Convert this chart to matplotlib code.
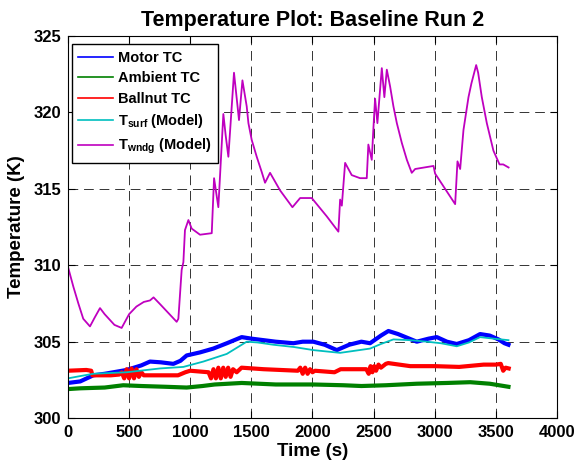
import matplotlib
matplotlib.use("Agg")
import matplotlib.pyplot as plt
from matplotlib.lines import Line2D

plt.rcParams["font.family"] = ["Liberation Sans", "DejaVu Sans"]
plt.rcParams["font.weight"] = "bold"
plt.rcParams["mathtext.fontset"] = "custom"
plt.rcParams["mathtext.rm"] = "Liberation Sans:bold"
plt.rcParams["mathtext.bf"] = "Liberation Sans:bold"
plt.rcParams["mathtext.it"] = "Liberation Sans:bold"

# Motor TC
motor_t = [0, 100, 207, 300, 480, 600, 671, 760, 862, 920, 971, 1080, 1189, 1300,
           1421, 1500, 1600, 1700, 1844, 1920, 2007, 2100, 2199, 2300, 2400, 2471,
           2560, 2621, 2700, 2853, 2950, 3017, 3100, 3180, 3280, 3371, 3450, 3521,
           3570, 3603]
motor_T = [302.3, 302.4, 302.8, 302.9, 303.15, 303.45, 303.7, 303.65, 303.55, 303.75,
           304.1, 304.3, 304.55, 304.9, 305.3, 305.2, 305.1, 305.0, 304.9, 305.0,
           305.0, 304.8, 304.45, 304.8, 305.0, 304.9, 305.4, 305.7, 305.5, 305.0,
           305.2, 305.3, 305.0, 304.85, 305.1, 305.5, 305.4, 305.15, 304.9, 304.8]

# Ambient TC
amb_t = [0, 100, 300, 452, 600, 800, 971, 1100, 1200, 1421, 1700, 2007, 2253, 2400,
         2600, 2853, 3100, 3290, 3450, 3603]
amb_T = [301.9, 301.95, 302.0, 302.15, 302.1, 302.05, 302.0, 302.1, 302.2, 302.3,
         302.2, 302.2, 302.15, 302.1, 302.15, 302.25, 302.3, 302.35, 302.25, 302.05]

# Ballnut TC
ball_t = [0, 150, 190, 200, 350, 420, 440, 460, 480, 500, 520, 540, 560, 580, 600, 620,
          900, 960, 1000, 1150, 1170, 1190, 1210, 1230, 1250, 1270, 1290, 1310, 1330,
          1350, 1380, 1420, 1600, 1880, 1900, 1920, 1940, 1960, 1980, 2000, 2020, 2180,
          2230, 2440, 2460, 2475, 2490, 2505, 2520, 2540, 2560, 2600, 2620, 2800, 3000,
          3200, 3400, 3500, 3540, 3560, 3580, 3605]
ball_T = [303.1, 303.15, 303.1, 302.8, 302.8, 302.85, 303.0, 302.6, 303.2, 302.6,
          303.25, 302.6, 303.2, 302.7, 303.0, 302.8, 302.8, 303.0, 303.1, 303.0,
          302.6, 303.2, 302.6, 303.3, 302.6, 303.3, 302.7, 303.3, 302.7, 303.2, 303.0,
          303.3, 303.2, 303.1, 303.3, 302.9, 303.3, 302.9, 303.2, 303.0, 303.1, 303.0,
          303.2, 303.2, 302.9, 303.4, 303.0, 303.4, 303.1, 303.5, 303.3, 303.55, 303.6,
          303.4, 303.4, 303.35, 303.5, 303.5, 303.55, 303.1, 303.3, 303.25]

# T_surf (Model)
surf_t = [0, 100, 207, 480, 753, 944, 1107, 1299, 1462, 1550, 1680, 1850, 2007, 2226,
          2471, 2560, 2662, 2800, 2935, 3050, 3180, 3280, 3371, 3480, 3603]
surf_T = [302.6, 302.75, 302.9, 303.0, 303.25, 303.35, 303.7, 304.2, 305.0, 304.95,
          304.8, 304.65, 304.45, 304.27, 304.55, 304.85, 305.15, 305.1, 305.0, 304.9,
          304.7, 304.95, 305.3, 305.2, 305.1]

# T_wndg (Model)
wndg_t = [0, 44, 85, 125, 180, 220, 262, 300, 380, 439, 500, 560, 620, 671, 700, 760,
          889, 903, 930, 944, 957, 985, 1012, 1080, 1176, 1195, 1230, 1271, 1290, 1312,
          1358, 1399, 1427, 1462, 1476, 1503, 1544, 1585, 1612, 1653, 1735, 1836, 1899,
          1994, 2117, 2212, 2226, 2240, 2267, 2321, 2389, 2444, 2457, 2485, 2498, 2512,
          2531, 2567, 2588, 2608, 2635, 2662, 2690, 2731, 2772, 2812, 2840, 2990, 3003,
          3167, 3186, 3208, 3235, 3276, 3300, 3339, 3355, 3385, 3426, 3480, 3530, 3560,
          3604]
wndg_T = [309.9, 308.6, 307.5, 306.5, 306.0, 306.6, 307.2, 306.8, 306.1, 305.9, 306.8,
          307.3, 307.6, 307.7, 307.9, 307.4, 306.3, 306.5, 309.7, 310.2, 312.3, 312.96,
          312.4, 312.0, 312.1, 315.7, 313.8, 319.9, 318.5, 317.1, 322.6, 319.5, 322.1,
          320.4, 319.3, 318.2, 317.1, 316.1, 315.4, 316.05, 314.9, 313.8, 314.4, 314.4,
          313.2, 312.2, 314.3, 313.9, 316.7, 315.9, 315.7, 315.7, 317.9, 316.9, 318.9,
          320.9, 319.3, 322.9, 321.0, 322.8, 321.7, 320.4, 319.3, 318.0, 316.9, 316.05,
          316.3, 316.5, 316.0, 314.0, 316.8, 316.3, 318.85, 321.0, 321.9, 323.1, 322.6,
          321.0, 319.3, 317.5, 316.6, 316.6, 316.4]

labels = ["Motor TC", "Ambient TC", "Ballnut TC",
          r"T$_{\mathbf{surf}}$ (Model)", r"T$_{\mathbf{wndg}}$ (Model)"]
colors = ["#0000ff", "#008000", "#ff0000", "#00bfbf", "#bf00bf"]

fig = plt.figure(figsize=(5.76, 4.62), dpi=100)
ax = fig.add_axes([0.118, 0.095, 0.849, 0.827])

ax.plot(motor_t, motor_T, color=colors[0], lw=3.0)
ax.plot(amb_t, amb_T, color=colors[1], lw=3.0)
ax.plot(ball_t, ball_T, color=colors[2], lw=3.0)
ax.plot(surf_t, surf_T, color=colors[3], lw=1.3)
ax.plot(wndg_t, wndg_T, color=colors[4], lw=1.3)

ax.set_xlim(0, 4000)
ax.set_ylim(300, 325)
ax.set_xticks(range(0, 4001, 500))
ax.set_yticks(range(300, 326, 5))
ax.tick_params(direction="in", top=True, right=True, labelsize=12, length=5, pad=5)
for lab in ax.get_xticklabels() + ax.get_yticklabels():
    lab.set_fontweight("bold")
ax.grid(True, color="black", linestyle=(0, (10, 6)), linewidth=0.7, alpha=0.8)

ax.set_title("Temperature Plot: Baseline Run 2", fontsize=15.5, fontweight="bold", pad=7)
ax.set_xlabel("Time (s)", fontsize=13.5, fontweight="bold", labelpad=2)
ax.set_ylabel("Temperature (K)", fontsize=13.5, fontweight="bold", labelpad=6)

# thin proxy lines for the legend, like the original
handles = [Line2D([], [], color=c, lw=1.2) for c in colors]
leg = ax.legend(handles, labels, loc="upper left", bbox_to_anchor=(0.008, 0.979),
                borderaxespad=0, fancybox=False, framealpha=1, edgecolor="black",
                handlelength=2.4, handletextpad=0.3, labelspacing=0.45,
                borderpad=0.45, prop={"weight": "bold", "size": 10.5})
leg.get_frame().set_linewidth(1.0)

fig.savefig("out.png", dpi=100)
